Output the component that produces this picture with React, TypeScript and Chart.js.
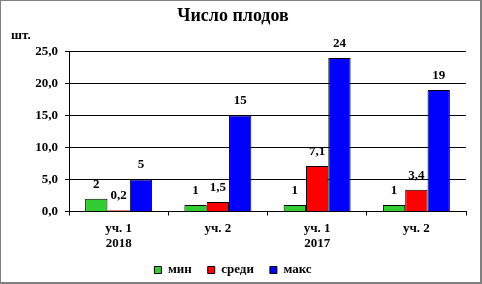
import React, { useEffect, useRef } from "react";
import { Chart, registerables } from "chart.js";

Chart.register(...registerables);

const categories: string[][] = [["уч. 1", "2018"], ["уч. 2"], ["уч. 1", "2017"], ["уч. 2"]];
const seriesNames = ["мин", "среди", "макс"];
const minValues = [2, 1, 1, 1];
const avgValues = [0.2, 1.5, 7.1, 3.4];
const maxValues = [5, 15, 24, 19];
const seriesColors = ["#33CC33", "#FF0000", "#0000FF"];
const yTicks = [0, 5, 10, 15, 20, 25];
const unitLabel = "шт.";
const titleText = "Число плодов";

const FONT = "'Liberation Serif', 'Times New Roman', serif";

const fmt = (v: number) => (Number.isInteger(v) ? String(v) : String(v).replace(".", ","));

const extrasPlugin = {
  id: "extras",
  afterDatasetsDraw(chart: any) {
    const ctx = chart.ctx;
    ctx.save();
    ctx.fillStyle = "#000";
    ctx.font = `bold 13px ${FONT}`;
    ctx.textAlign = "center";
    ctx.textBaseline = "middle";
    chart.data.datasets.forEach((ds: any, i: number) => {
      const meta = chart.getDatasetMeta(i);
      meta.data.forEach((el: any, j: number) => {
        ctx.fillText(fmt(ds.data[j]), el.x, el.y - 14.5);
      });
    });
    ctx.restore();
  },
  afterDraw(chart: any) {
    const ctx = chart.ctx;
    ctx.save();
    ctx.fillStyle = "#000";
    ctx.font = `bold 13px ${FONT}`;
    ctx.textAlign = "left";
    ctx.textBaseline = "middle";
    ctx.fillText(unitLabel, 11, 36);
    const w = chart.width;
    const h = chart.height;
    ctx.fillStyle = "#808080";
    ctx.fillRect(0, 0, w, 1);
    ctx.fillRect(0, 0, 1, h);
    ctx.fillRect(w - 2, 0, 2, h);
    ctx.fillRect(0, h - 2, w, 2);
    ctx.restore();
  },
};

export default function App() {
  const ref = useRef<HTMLCanvasElement | null>(null);
  useEffect(() => {
    if (!ref.current) return;
    Chart.defaults.font.family = FONT;
    Chart.defaults.color = "#000";
    const data = [minValues, avgValues, maxValues];
    const chart = new Chart(ref.current, {
      type: "bar",
      data: {
        labels: categories,
        datasets: seriesNames.map((name, i) => ({
          label: name,
          data: data[i],
          backgroundColor: seriesColors[i],
          borderColor: "#000",
          borderWidth: 1,
          categoryPercentage: 0.675,
          barPercentage: 1,
        })),
      },
      options: {
        responsive: false,
        animation: false,
        layout: { padding: { left: 0, right: 16, top: 0, bottom: -2.5 } },
        plugins: {
          title: {
            display: true,
            text: titleText,
            color: "#000",
            font: { family: FONT, size: 18, weight: "bold", lineHeight: 1.2 },
            padding: { top: 6, bottom: 24 },
          },
          legend: {
            position: "bottom",
            labels: {
              boxWidth: 7,
              boxHeight: 7,
              padding: 16,
              color: "#000",
              font: { family: FONT, size: 13, weight: "bold" },
            },
          },
          tooltip: { enabled: false },
        },
        scales: {
          x: {
            grid: { drawOnChartArea: false, drawTicks: true, tickLength: 4, color: "#000", offset: true },
            border: { display: true, color: "#000", width: 1 },
            ticks: {
              color: "#000",
              padding: 6,
              maxRotation: 0,
              font: { family: FONT, size: 13, weight: "bold", lineHeight: 1.15 },
            },
            afterFit: (s: any) => {
              s.height = 36;
            },
          },
          y: {
            min: 0,
            max: 25,
            afterBuildTicks: (s: any) => {
              s.ticks = yTicks.map((v) => ({ value: v }));
            },
            grid: { color: "#000", tickLength: 4, drawTicks: true },
            border: { display: true, color: "#000", width: 1 },
            ticks: {
              color: "#000",
              padding: 7,
              font: { family: FONT, size: 13, weight: "bold" },
              callback: (v: any) => Number(v).toFixed(1).replace(".", ","),
            },
            afterFit: (s: any) => {
              s.width = 69;
            },
          },
        },
      },
      plugins: [extrasPlugin],
    } as any);
    return () => chart.destroy();
  }, []);
  return (
    <canvas
      ref={ref}
      width={482}
      height={284}
      style={{ position: "absolute", left: 0, top: 0, display: "block", background: "#fff" }}
    />
  );
}
